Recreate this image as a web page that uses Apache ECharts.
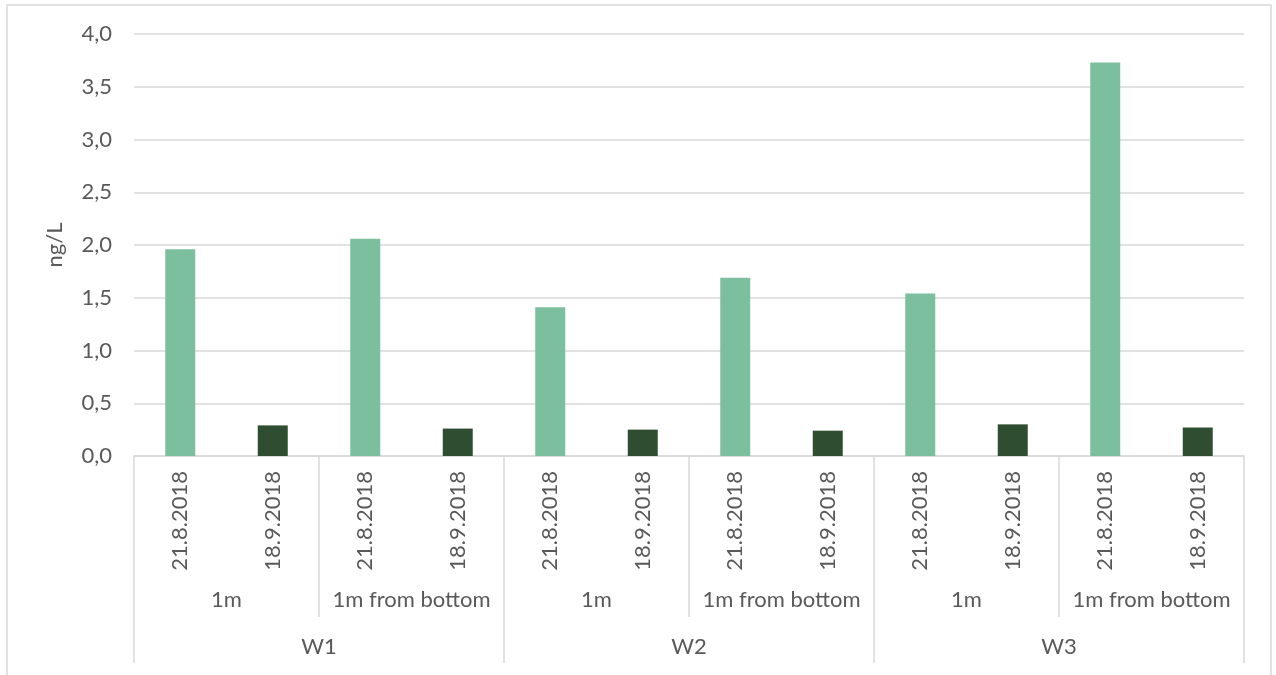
<!DOCTYPE html>
<html>
<head>
<meta charset="utf-8">
<style>
  html, body { margin: 0; padding: 0; background: #ffffff; }
  #chart { width: 1276px; height: 675px; }
</style>
<script src="https://cdn.jsdelivr.net/npm/echarts@6/dist/echarts.min.js"></script>
</head>
<body>
<div id="chart"></div>
<script>
// Sampling stations, depths and dates (three-level category axis)
const sites = ['W1', 'W2', 'W3'];
const depths = ['1m', '1m from bottom'];
const dates = ['21.8.2018', '18.9.2018'];

// Concentrations in ng/L, one value per site/depth pair (W1 1m, W1 bottom, W2 1m, ...)
const valuesAug21 = [1.96, 2.06, 1.41, 1.69, 1.54, 3.73];
const valuesSep18 = [0.29, 0.26, 0.25, 0.24, 0.30, 0.27];

// Y-axis range
const yMin = 0, yMax = 4, yStep = 0.5;

const FONT = 'Lato, "Open Sans", sans-serif';
const TEXT = '#595959';
const LINE = '#d9d9d9';

// Build the flat category lists for each axis level
const dateCats = [];
const depthCats = [];
sites.forEach(() => depths.forEach(d => {
  depthCats.push(d);
  dates.forEach(dt => dateCats.push(dt));
}));

const augData = [];
const sepData = [];
valuesAug21.forEach((v, i) => {
  augData.push(v, null);
  sepData.push(null, valuesSep18[i]);
});

const chart = echarts.init(document.getElementById('chart'), null, { renderer: 'canvas' });

const baseAxis = {
  type: 'category',
  position: 'bottom',
  gridIndex: 0,
  boundaryGap: true,
  axisLine: { show: false },
  axisTick: { show: false },
  splitLine: { show: false }
};

chart.setOption({
  animation: false,
  backgroundColor: '#ffffff',
  textStyle: { fontFamily: FONT },
  graphic: [{
    type: 'rect',
    shape: { x: 7, y: 5, width: 1264, height: 700 },
    style: { fill: 'none', stroke: LINE, lineWidth: 1.5 },
    silent: true
  }],
  grid: { left: 134, right: 32, top: 34, bottom: 219, containLabel: false },
  xAxis: [
    Object.assign({}, baseAxis, {
      data: dateCats,
      axisLine: { show: true, lineStyle: { color: LINE, width: 1.5 } },
      axisLabel: {
        interval: 0, rotate: 90, margin: 15,
        color: TEXT, fontSize: 22, fontFamily: FONT
      }
    }),
    Object.assign({}, baseAxis, {
      data: depthCats,
      axisTick: { show: true, length: 161, lineStyle: { color: LINE, width: 1.5 } },
      axisLabel: {
        interval: 0, margin: 133,
        color: TEXT, fontSize: 22, fontFamily: FONT
      }
    }),
    Object.assign({}, baseAxis, {
      data: sites,
      axisTick: { show: true, length: 207, lineStyle: { color: LINE, width: 1.5 } },
      axisLabel: {
        interval: 0, margin: 180,
        color: TEXT, fontSize: 22, fontFamily: FONT
      }
    })
  ],
  yAxis: {
    type: 'value',
    min: yMin, max: yMax, interval: yStep,
    name: 'ng/L',
    nameLocation: 'middle',
    nameGap: 68,
    nameRotate: 90,
    nameTextStyle: { color: TEXT, fontSize: 22, fontFamily: FONT },
    axisLine: { show: false },
    axisTick: { show: false },
    axisLabel: {
      margin: 22, color: TEXT, fontSize: 22, fontFamily: FONT,
      formatter: v => v.toFixed(1).replace('.', ',')
    },
    splitLine: { lineStyle: { color: LINE, width: 1.5 } }
  },
  series: [
    {
      name: '21.8.2018', type: 'bar', xAxisIndex: 0,
      data: augData, barWidth: 30, barGap: '-100%',
      itemStyle: { color: '#7bbf9e' }
    },
    {
      name: '18.9.2018', type: 'bar', xAxisIndex: 0,
      data: sepData, barWidth: 30, barGap: '-100%',
      itemStyle: { color: '#2f4e31' }
    }
  ]
});
</script>
</body>
</html>
